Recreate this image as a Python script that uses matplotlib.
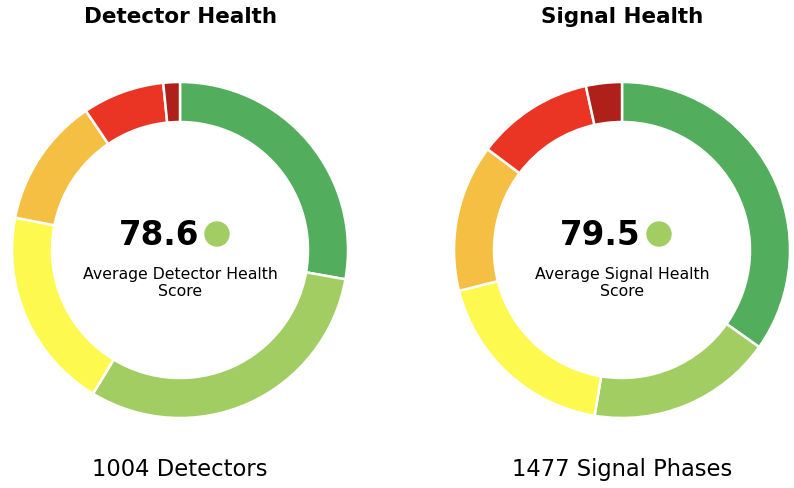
import matplotlib.pyplot as plt
from matplotlib.patches import Circle

# health categories, best to worst (clockwise from 12 o'clock)
colors = ['#52ad5d', '#a2cd62', '#fdf94e', '#f4bf43', '#ea3424', '#ae2019']

detector_counts = [279, 310, 195, 125, 79, 16]
signal_counts = [514, 263, 273, 209, 167, 51]

titles = ['Detector Health', 'Signal Health']
scores = ['78.6', '79.5']
score_labels = ['Average Detector Health\nScore', 'Average Signal Health\nScore']
footers = ['1004 Detectors', '1477 Signal Phases']
dot_color = '#a2cd62'

W, H = 794, 489
fig = plt.figure(figsize=(W / 100, H / 100), dpi=100)
ax = fig.add_axes([0, 0, 1, 1])

centers = [(180, H - 251), (622, H - 251)]
R = 168
ring = 40

for i, counts in enumerate([detector_counts, signal_counts]):
    cx, cy = centers[i]
    ax.pie(counts, colors=colors, startangle=90, counterclock=False,
           center=(cx, cy), radius=R,
           wedgeprops=dict(width=ring, edgecolor='white', linewidth=1.8))
    ax.text(cx, H - 17, titles[i], ha='center', va='center',
            fontsize=15.5, fontweight='bold', family='DejaVu Sans')
    ax.text(cx + 19, H - 236, scores[i], ha='right', va='center',
            fontsize=23.5, fontweight='bold', family='DejaVu Sans')
    ax.add_patch(Circle((cx + 37, H - 235), 12, color=dot_color))
    ax.text(cx, H - 283, score_labels[i], ha='center', va='center',
            fontsize=11.3, family='DejaVu Sans', linespacing=1.2)
    ax.text(cx, H - 470, footers[i], ha='center', va='center',
            fontsize=16.3, family='DejaVu Sans')

ax.set_xlim(0, W)
ax.set_ylim(0, H)
ax.set_aspect('equal')
ax.axis('off')

fig.savefig('out.png', dpi=100)
